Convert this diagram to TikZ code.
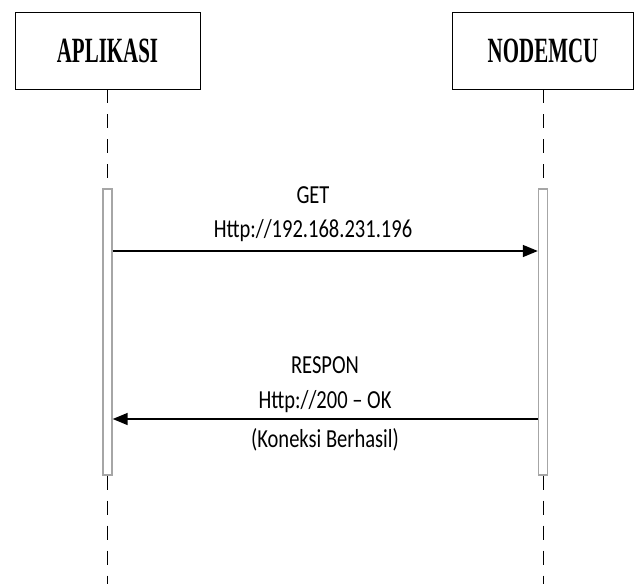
\documentclass[tikz,border=0pt]{standalone}
\usepackage{fontspec}
\setmainfont{Carlito}
\newfontfamily\titlefont{Liberation Serif}
\usetikzlibrary{arrows.meta}
\tikzset{
  actor/.style={draw=black, line width=0.8pt, fill=white, minimum width=185pt, minimum height=77pt, inner sep=0pt},
  actbar/.style={draw=gray!70, line width=1.4pt, fill=white, minimum width=9pt, minimum height=286pt, inner sep=0pt},
  life/.style={draw=black, line width=0.9pt, dash pattern=on 14pt off 11pt},
  msg/.style={draw=black, line width=1.5pt, -{Triangle[length=15pt,width=12pt]}},
  lbl/.style={anchor=base, inner sep=0pt, font=\fontsize{26}{30}\selectfont},
  ttl/.style={inner sep=0pt, font=\titlefont\bfseries\fontsize{35.5}{40}\selectfont}
}
\newcommand{\sq}[1]{\scalebox{0.79}[1]{#1}}
\newcommand{\tq}[1]{\scalebox{0.59}[1]{#1}}
\begin{document}
\begin{tikzpicture}[x=1pt,y=-1pt]
\useasboundingbox (0,0) rectangle (634,584);
\node[actor] (app) at (107.5,50.5) {};
\node[ttl] at (app.center) {\tq{APLIKASI}};
\node[actor, minimum width=181pt] (mcu) at (543,50.5) {};
\node[ttl] at (mcu.center) {\tq{NODEMCU}};
\node[actbar] (lbar) at (107.5,332) {};
\node[actbar] (rbar) at (543,332) {};
\coordinate (lend) at (107.5,584);
\coordinate (rend) at (543,584);
\draw[life] (app.south) -- (lbar.north);
\draw[life] (lbar.south) -- (lend);
\draw[life] (mcu.south) -- (rbar.north);
\draw[life] (rbar.south) -- (rend);
\coordinate (m1s) at (lbar.east |- 0,251);
\coordinate (m1e) at (rbar.west |- 0,251);
\coordinate (m2s) at (rbar.west |- 0,419);
\coordinate (m2e) at (lbar.east |- 0,419);
\draw[msg] (m1s) -- (m1e);
\draw[msg] (m2s) -- (m2e);
\node[lbl] (t1) at (313,203) {\sq{GET}};
\node[lbl] (t2) at (313,237) {\sq{Http://192.168.231.196}};
\node[lbl] (t3) at (325,373) {\sq{RESPON}};
\node[lbl] (t4) at (325,408) {\sq{Http://200 – OK}};
\node[lbl] (t5) at (325,447) {\sq{(Koneksi Berhasil)}};
\end{tikzpicture}
\end{document}
